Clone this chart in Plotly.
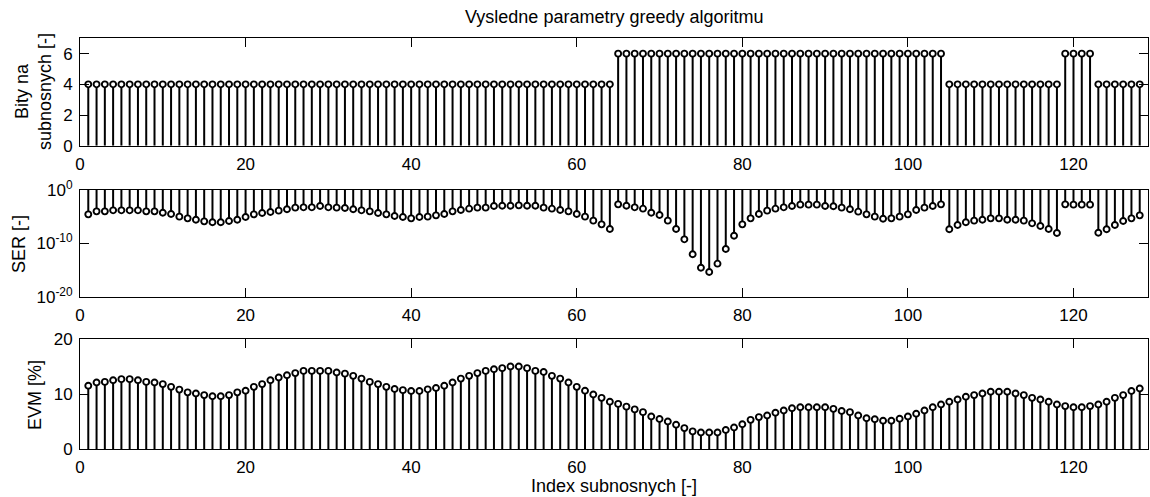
import plotly.graph_objects as go

# ---------------- data ----------------
subcarrier = list(range(1, 129))

bits = [4, 4, 4, 4, 4, 4, 4, 4, 4, 4, 4, 4, 4, 4, 4, 4,
        4, 4, 4, 4, 4, 4, 4, 4, 4, 4, 4, 4, 4, 4, 4, 4,
        4, 4, 4, 4, 4, 4, 4, 4, 4, 4, 4, 4, 4, 4, 4, 4,
        4, 4, 4, 4, 4, 4, 4, 4, 4, 4, 4, 4, 4, 4, 4, 4,
        6, 6, 6, 6, 6, 6, 6, 6, 6, 6, 6, 6, 6, 6, 6, 6,
        6, 6, 6, 6, 6, 6, 6, 6, 6, 6, 6, 6, 6, 6, 6, 6,
        6, 6, 6, 6, 6, 6, 6, 6, 4, 4, 4, 4, 4, 4, 4, 4,
        4, 4, 4, 4, 4, 4, 6, 6, 6, 6, 4, 4, 4, 4, 4, 4]

# SER read as decimal exponent (log10 of SER)
ser_log10 = [-4.55, -3.99, -3.99, -3.80, -3.80, -3.80, -3.80, -3.99,
             -3.99, -4.24, -4.49, -4.98, -5.30, -5.55, -5.86, -6.04,
             -6.04, -5.79, -5.55, -5.05, -4.55, -4.30, -4.11, -3.86,
             -3.61, -3.30, -3.24, -3.24, -2.99, -3.24, -3.30, -3.36,
             -3.61, -3.80, -3.99, -4.30, -4.55, -4.86, -5.05, -5.30,
             -5.05, -4.98, -4.74, -4.49, -3.99, -3.74, -3.49, -3.30,
             -3.30, -2.99, -2.93, -2.93, -2.87, -2.93, -2.93, -3.30,
             -3.49, -3.74, -3.99, -4.49, -4.98, -5.73, -6.42, -7.29,
             -2.68, -2.93, -3.24, -3.49, -4.24, -4.67, -5.73, -7.29,
             -9.22, -12.02, -14.52, -15.33, -13.77, -11.03, -8.54, -6.42,
             -5.30, -4.49, -3.86, -3.49, -3.24, -2.99, -2.74, -2.74,
             -2.74, -2.99, -3.05, -3.30, -3.61, -4.05, -4.55, -4.98,
             -5.36, -5.30, -4.98, -4.55, -3.74, -3.30, -2.99, -2.68,
             -7.35, -6.54, -6.04, -5.73, -5.55, -5.30, -5.30, -5.55,
             -5.55, -5.73, -6.23, -6.73, -7.29, -8.04, -2.68, -2.74,
             -2.74, -2.74, -7.98, -7.35, -6.54, -5.79, -5.30, -4.74]

evm = [11.5, 12.1, 12.2, 12.5, 12.7, 12.7, 12.5, 12.2, 12.1, 11.8, 11.3, 10.8,
       10.3, 10.1, 9.8, 9.6, 9.6, 9.8, 10.3, 10.6, 11.3, 11.8, 12.5, 13.0,
       13.4, 13.8, 14.2, 14.2, 14.2, 14.2, 13.9, 13.7, 13.3, 12.8, 12.2, 11.8,
       11.3, 10.9, 10.7, 10.55, 10.55, 10.85, 11.1, 11.5, 12.1, 12.8, 13.3, 13.8,
       14.2, 14.5, 14.7, 15.0, 15.0, 14.7, 14.2, 14.0, 13.3, 12.8, 12.1, 11.3,
       10.6, 9.9, 9.3, 8.6, 8.2, 7.7, 7.2, 6.7, 5.9, 5.45, 5.0, 4.4,
       3.8, 3.2, 3.0, 3.0, 3.0, 3.45, 3.9, 4.5, 5.3, 5.8, 6.1, 6.6,
       7.0, 7.4, 7.6, 7.6, 7.6, 7.6, 7.3, 6.9, 6.7, 6.1, 5.6, 5.4,
       5.15, 5.15, 5.5, 5.9, 6.4, 7.0, 7.6, 8.1, 8.6, 9.0, 9.5, 9.8,
       10.1, 10.4, 10.4, 10.4, 10.1, 9.8, 9.3, 9.0, 8.6, 8.1, 7.8, 7.6,
       7.6, 7.8, 8.1, 8.6, 9.3, 9.8, 10.55, 11.0]

ser = [10 ** e for e in ser_log10]

title_text = "Vysledne parametry greedy algoritmu"
xlabel_text = "Index subnosnych [-]"
ylabels = ["Bity na<br>subnosnych [-]", "SER [-]", "EVM [%]"]
x_ticks = [0, 20, 40, 60, 80, 100, 120]
bits_ticks = [0, 2, 4, 6]
ser_ticks = [1e-20, 1e-10, 1e0]
ser_ticktext = ["10<sup>-20</sup>", "10<sup>-10</sup>", "10<sup>0</sup>"]
evm_ticks = [0, 10, 20]

# ---------------- figure ----------------
FONT = "Liberation Sans, Arial, Helvetica, sans-serif"
TICK_SIZE = 17
LABEL_SIZE = 18


def stems(xs, ys, base):
    sx, sy = [], []
    for xv, yv in zip(xs, ys):
        sx += [xv, xv, None]
        sy += [base, yv, None]
    return sx, sy


fig = go.Figure()
panels = [(bits, 0, "x", "y"), (ser, 1, "x2", "y2"), (evm, 0, "x3", "y3")]
for vals, base, xa, ya in panels:
    sx, sy = stems(subcarrier, vals, base)
    fig.add_trace(go.Scatter(x=sx, y=sy, mode="lines", xaxis=xa, yaxis=ya,
                             line=dict(color="black", width=2),
                             hoverinfo="skip", showlegend=False))
    fig.add_trace(go.Scatter(x=subcarrier, y=vals, mode="markers", xaxis=xa, yaxis=ya,
                             marker=dict(symbol="circle", size=6, color="white",
                                         line=dict(color="black", width=1.9)),
                             showlegend=False, cliponaxis=False))

W, H = 1150, 497
ML, MR, MT, MB = 80, 2, 38, 48
PH = H - MT - MB


def dom(top_px, bottom_px):
    return [(H - MB - bottom_px) / PH, (H - MB - top_px) / PH]


common_x = dict(range=[0, 129], tickvals=x_ticks, ticks="inside", ticklen=9,
                tickwidth=1, tickcolor="black", showline=True, linecolor="black",
                linewidth=1, mirror="ticks", showgrid=False, zeroline=False,
                tickfont=dict(family=FONT, size=TICK_SIZE, color="black"),
                ticklabelstandoff=3)
common_y = dict(ticks="inside", ticklen=9, tickwidth=1, tickcolor="black",
                showline=True, linecolor="black", linewidth=1, mirror="ticks",
                showgrid=False, zeroline=False,
                tickfont=dict(family=FONT, size=TICK_SIZE, color="black"),
                ticklabelstandoff=3)

fig.update_layout(
    width=W, height=H,
    margin=dict(l=ML, r=MR, t=MT, b=MB),
    paper_bgcolor="white", plot_bgcolor="white",
    font=dict(family=FONT, size=TICK_SIZE, color="black"),
    xaxis=dict(domain=[0, 1], anchor="y", **common_x),
    yaxis=dict(domain=dom(38.3, 145.7), anchor="x", range=[0, 7],
               tickvals=bits_ticks, **common_y),
    xaxis2=dict(domain=[0, 1], anchor="y2", **common_x),
    yaxis2=dict(domain=dom(190, 297), anchor="x2", type="log", range=[-20, 0],
                tickvals=ser_ticks, ticktext=ser_ticktext, **common_y),
    xaxis3=dict(domain=[0, 1], anchor="y3", **common_x),
    yaxis3=dict(domain=dom(339, 449), anchor="x3", range=[0, 20],
                tickvals=evm_ticks, **common_y),
)


def px_x(px):
    return (px - ML) / (W - ML - MR)


def px_y(py):
    return (H - MB - py) / PH


ann = [
    dict(text=title_text, x=px_x(614), y=px_y(17)),
    dict(text=xlabel_text, x=px_x(614), y=px_y(486)),
    dict(text=ylabels[0], x=px_x(34), y=px_y(92), textangle=-90),
    dict(text=ylabels[1], x=px_x(19), y=px_y(244), textangle=-90),
    dict(text=ylabels[2], x=px_x(35), y=px_y(395), textangle=-90),
]
for a in ann:
    fig.add_annotation(xref="paper", yref="paper", showarrow=False,
                       xanchor="center", yanchor="middle",
                       font=dict(family=FONT, size=LABEL_SIZE, color="black"), **a)

fig.write_html("out.html")
